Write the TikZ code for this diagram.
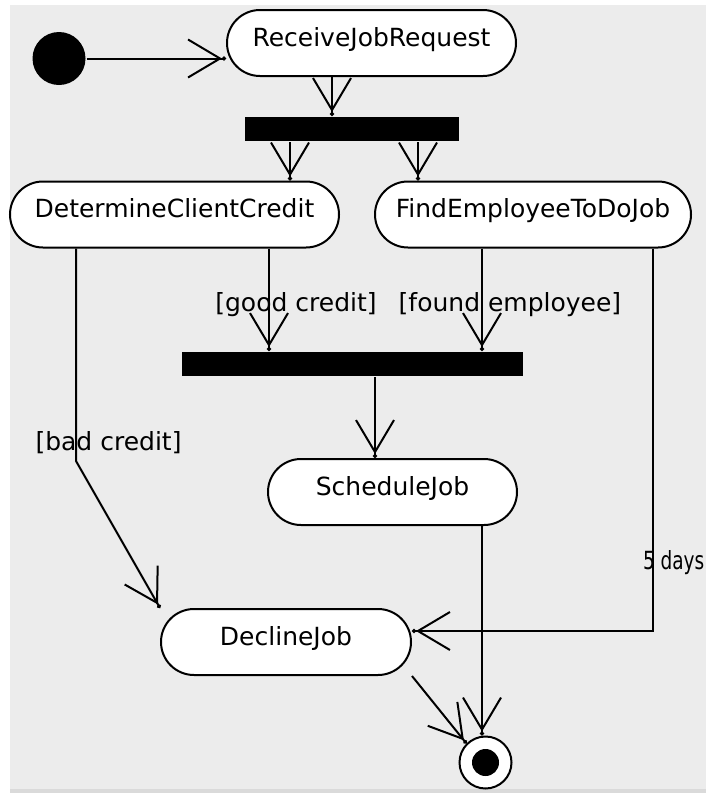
\documentclass[tikz,border=0pt]{standalone}
\usepackage{fontspec}
\setmainfont{DejaVu Sans}
\usepackage{tikz}
\usetikzlibrary{shapes.misc,arrows.meta}
\definecolor{bggray}{HTML}{ECECEC}
\definecolor{edgegray}{HTML}{DADADA}

\begin{document}
\begin{tikzpicture}[x=0.5pt, y=-0.5pt, line width=1pt,
    every node/.style={font=\fontsize{12.5}{15}\selectfont},
    act/.style={draw, fill=white, rounded rectangle, minimum width=#1,
        minimum height=33pt, inner sep=0pt, text height=9pt, text depth=6pt},
    bar/.style={fill=black, minimum width=#1, minimum height=12pt, inner sep=0pt},
    flow/.style={-{Straight Barb[length=16pt, width=19pt]Circle[length=2pt]}},
    guard/.style={inner sep=0pt}]
    \useasboundingbox (0,0) rectangle (706,793);
    \clip (0,0) rectangle (706,793);
    \fill[bggray] (10,5) rectangle (706,789);
    \fill[edgegray] (10,789) rectangle (706,793);
    % STATI
    \node[circle, fill=black, minimum size=26.5pt, inner sep=0pt] (init) at (59,58.5) {};
    \node[act=144.5pt] (recv) at (371.5,43) {ReceiveJobRequest};
    \node[bar=107pt] (fork) at (352,129) {};
    \node[act=164.5pt] (credit) at (174.5,214.5) {DetermineClientCredit};
    \node[act=158pt] (employee) at (533,214.5) {FindEmployeeToDoJob};
    \node[bar=170.5pt] (join) at (352.5,364) {};
    \node[act=124.5pt] (sched) at (392.5,492) {ScheduleJob};
    \node[act=125pt] (decline) at (286,642) {DeclineJob};
    \node[circle, draw, fill=white, minimum size=26pt, inner sep=0pt] (final) at (485.5,762.5) {};
    \node[circle, fill=black, minimum size=13.5pt, inner sep=0pt] (finaldot) at (final) {};
    \coordinate (badbend) at (76,461);
    \coordinate (daysbend) at (653,631);
    % GUARDIE
    \node[guard] (goodlbl) at (296,305) {[good credit]};
    \node[guard] (foundlbl) at (510,305) {[found employee]};
    \node[guard] (badlbl) at (108.5,443) {[bad credit]};
    \node[guard, anchor=west] (dayslbl) at (642,563) {\scalebox{0.74}[1]{5 days}};
    % TRANSIZIONI
    \draw[flow] (init.east) -- (init.east -| recv.west);
    \draw[flow] ([xshift=-10pt]fork.north |- recv.south) -- ([xshift=-10pt]fork.north);
    \draw[flow] ([xshift=-31pt]fork.south) -- ([xshift=-31pt]fork.south |- credit.north);
    \draw[flow] ([xshift=33pt]fork.south) -- ([xshift=33pt]fork.south |- employee.north);
    \draw[flow] ([xshift=-41.75pt]join.north |- credit.south) -- ([xshift=-41.75pt]join.north);
    \draw[flow] ([xshift=64.75pt]join.north |- employee.south) -- ([xshift=64.75pt]join.north);
    \draw[flow] ([xshift=11.25pt]join.south) -- ([xshift=11.25pt]join.south |- sched.north);
    \draw[flow] (credit.south -| badbend) -- (badbend) -- (decline.west |- decline.north);
    \draw[flow] (employee.south -| daysbend) -- (daysbend) -- (daysbend -| decline.east);
    \draw[flow] ([xshift=-1.75pt]final.north |- sched.south) -- ([xshift=-1.75pt]final.north);
    \draw[flow] (decline.east |- decline.south) -- (final.north west);
\end{tikzpicture}
\end{document}
